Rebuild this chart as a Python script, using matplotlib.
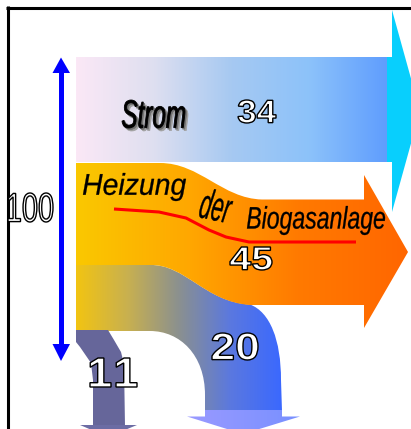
import numpy as np
import matplotlib
matplotlib.use("Agg")
import matplotlib.pyplot as plt
from matplotlib.path import Path
from matplotlib.patches import PathPatch
from matplotlib.textpath import TextPath
from matplotlib.font_manager import FontProperties
from matplotlib.transforms import Affine2D
from matplotlib.colors import LinearSegmentedColormap

# --- flows of the diagram (values shown as labels) ---
total = 100
flow_labels = ["Strom", "Heizung der Biogasanlage", "", ""]
flow_values = [34, 45, 20, 11]

# gradient stops for each band (left -> right)
strom_colors = ["#fbe8f6", "#dedff0", "#a6c9f2", "#8cc2fa", "#5f9dfe"]
heiz_colors = ["#fac800", "#ffa800", "#ff7a00", "#ff6600"]
rest_colors = ["#f2c412", "#c8b050", "#8a9090", "#5a78e0", "#3a68ff"]
head20_colors = ["#9a9aff", "#7890ff"]
purple = "#66669a"
cyan = "#08cffd"

W, H = 411, 429
fig = plt.figure(figsize=(W / 100, H / 100), dpi=100)
ax = fig.add_axes([0, 0, 1, 1])
ax.axis("off")


def make_path(segs):
    verts, codes = [], []
    for s in segs:
        if s[0] == "M":
            verts.append(s[1]); codes.append(Path.MOVETO)
        elif s[0] == "L":
            verts.append(s[1]); codes.append(Path.LINETO)
        elif s[0] == "C":
            verts += [s[1], s[2], s[3]]; codes += [Path.CURVE4] * 3
    verts.append(verts[0]); codes.append(Path.CLOSEPOLY)
    return Path(verts, codes)


def grad_fill(path, colors, x0, x1, z):
    patch = PathPatch(path, facecolor="none", edgecolor="none")
    ax.add_patch(patch)
    cmap = LinearSegmentedColormap.from_list("g", colors)
    ys = path.vertices[:, 1]
    im = ax.imshow(np.linspace(0, 1, 256)[None, :], cmap=cmap, aspect="auto",
                   extent=(x0, x1, ys.max() + 1, ys.min() - 1),
                   interpolation="bilinear", zorder=z)
    im.set_clip_path(patch)


def text_box(s, x0, y0, x1, y1, prop, fc="black", ec="none", lw=0, z=10, rot=0):
    tp = TextPath((0, 0), s, size=40, prop=prop)
    ext = tp.get_extents()
    sx = (x1 - x0) / ext.width
    sy = (y1 - y0) / ext.height
    cx, cy = (x0 + x1) / 2, (y0 + y1) / 2
    tr = (Affine2D().translate(-(ext.x0 + ext.x1) / 2, -(ext.y0 + ext.y1) / 2)
          .scale(sx, -sy).rotate_deg(rot).translate(cx, cy))
    ax.add_patch(PathPatch(tr.transform_path(tp), facecolor=fc, edgecolor=ec,
                           lw=lw, zorder=z))


# --- frame lines ---
ax.plot([6, W], [7.5, 7.5], color="black", lw=2.2, solid_capstyle="butt", zorder=1)
ax.plot([7.5, 7.5], [6, H], color="black", lw=2.2, solid_capstyle="butt", zorder=1)

# --- Strom band ---
strom = make_path([("M", (76, 57)), ("L", (387, 57)), ("L", (387, 162)), ("L", (76, 162))])
grad_fill(strom, strom_colors, 76, 387, 2)
cyan_head = make_path([("M", (387, 57)), ("L", (392, 57)), ("L", (392, 10)), ("L", (420, 111)),
                       ("L", (392, 212)), ("L", (392, 162)), ("L", (387, 162))])
ax.add_patch(PathPatch(cyan_head, facecolor=cyan, edgecolor="none", zorder=2))

# --- band of 20 (curving down) ---
rest = make_path([("M", (76, 265)), ("L", (150, 265)),
                  ("C", (185, 264), (205, 302), (250, 304.5)),
                  ("C", (270, 312), (281, 340), (281, 380)),
                  ("L", (282, 411)), ("L", (205, 411)), ("L", (205, 395)),
                  ("C", (205, 355), (180, 331), (150, 331)), ("L", (76, 331))])
grad_fill(rest, rest_colors, 76, 282, 3)
head20 = make_path([("M", (205, 410)), ("L", (282, 410)), ("L", (282, 416.5)), ("L", (300, 416.5)),
                    ("L", (243, 434)), ("L", (187, 416.5)), ("L", (205, 416.5))])
grad_fill(head20, head20_colors, 187, 300, 4)

# --- band of 11 ---
band11 = make_path([("M", (76, 330)), ("L", (108, 330)), ("L", (114, 340)), ("L", (121, 352)),
                    ("L", (124, 364)), ("L", (125, 426)), ("L", (93, 426)), ("L", (93, 380)),
                    ("L", (91, 363)), ("L", (80, 347)), ("L", (76, 342))])
ax.add_patch(PathPatch(band11, facecolor=purple, edgecolor="none", zorder=4))
head11 = make_path([("M", (80, 425)), ("L", (137, 425)), ("L", (108, 437))])
ax.add_patch(PathPatch(head11, facecolor="#6c6ca4", edgecolor="none", zorder=4))

# --- Heizung band ---
heiz = make_path([("M", (76, 163)), ("L", (160, 163)),
                  ("C", (200, 163), (222, 198.5), (262, 199.5)),
                  ("L", (364, 199.5)), ("L", (364, 175)), ("L", (408, 252)), ("L", (364, 328)),
                  ("L", (364, 305)), ("L", (250, 305)),
                  ("C", (205, 302), (185, 264), (150, 265)), ("L", (76, 265))])
grad_fill(heiz, heiz_colors, 76, 408, 5)

# --- blue double arrow (total) ---
ax.fill([59, 63.5, 63.5, 59], [72, 72, 345, 345], color="#0000ff", lw=0, zorder=6)
ax.fill([52.5, 70, 61], [73, 73, 57.5], color="#0000ff", lw=0, zorder=6)
ax.fill([52.5, 70, 61], [344, 344, 361], color="#0000ff", lw=0, zorder=6)

# --- red underline ---
ux = [114, 159, 186, 209, 226, 249, 300, 356]
uy = [209, 212, 218, 230, 237, 242, 242, 242]
ax.plot(ux, uy, color="#ff0000", lw=2.2, zorder=7, solid_capstyle="butt")

# --- texts ---
ital = FontProperties(family="Liberation Sans", style="italic")
bold = FontProperties(family="Liberation Sans", weight="bold")
reg = FontProperties(family="Liberation Sans")

# Strom with a soft grey shadow
text_box(flow_labels[0], 125, 103, 188, 131, ital, fc="#a0a0a0", ec="#a0a0a0", lw=0.5, z=8)
text_box(flow_labels[0], 123.5, 101.5, 186.5, 129.5, ital, fc="#707070", ec="#707070", lw=0.5, z=8)
text_box(flow_labels[0], 122, 100, 185, 128, ital, fc="black", ec="black", lw=0.6, z=9)
heiz_words = flow_labels[1].split()
text_box(heiz_words[0], 83, 173, 186, 201, ital, ec="black", lw=0.2, z=9)
text_box(heiz_words[1], 201, 190, 232, 221, ital, ec="black", lw=0.2, z=9, rot=12)
text_box(heiz_words[2], 247, 206, 385, 235, ital, ec="black", lw=0.2, z=9)

text_box(str(flow_values[0]), 238, 100, 276, 123, bold, fc="white", ec="black", lw=1.0, z=9)
text_box(str(flow_values[1]), 230, 247, 272, 270, bold, fc="white", ec="black", lw=1.0, z=9)
text_box(str(flow_values[2]), 212, 333, 258, 360, bold, fc="white", ec="black", lw=1.0, z=9)
s11 = str(flow_values[3])
text_box(s11[0], 90, 358, 111, 387, bold, fc="white", ec="black", lw=1.0, z=9)
text_box(s11[1], 116, 358, 137, 387, bold, fc="white", ec="black", lw=1.0, z=9)
text_box(str(total), 8, 193, 53, 222, reg, fc="white", ec="black", lw=1.0, z=9)

ax.set_xlim(0, W)
ax.set_ylim(H, 0)
fig.savefig("out.png", dpi=100)
